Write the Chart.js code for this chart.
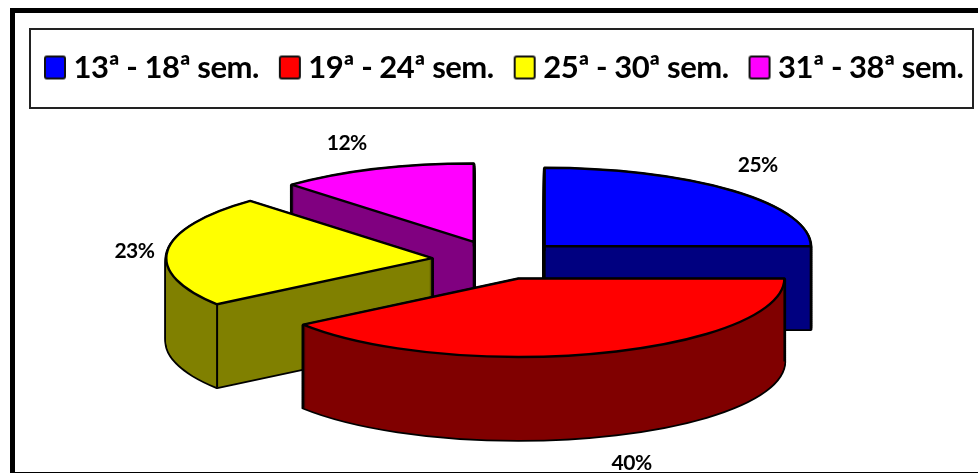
<!DOCTYPE html>
<html>
<head>
<meta charset="utf-8">
<title>Pie</title>
<script src="https://cdn.jsdelivr.net/npm/chart.js@4"></script>
<style>
  body { margin: 0; background: #fff; }
  canvas { display: block; }
</style>
</head>
<body>
<canvas id="myChart" width="978" height="473"></canvas>
<script>
const categories = ["13ª - 18ª sem.", "19ª - 24ª sem.", "25ª - 30ª sem.", "31ª - 38ª sem."];
const percents = [25, 40, 23, 12];
const topColors = ["#0000ff", "#ff0000", "#ffff00", "#ff00ff"];
const sideColors = ["#000080", "#800000", "#808000", "#800080"];

// back slices first so the front ones paint over them
const drawOrder = [3, 2, 0, 1];
// label shift from the middle of each slice's rim
const labelShift = [[25, -26], [31, 110], [-33, 0], [-29, -26]];

const tilt = 0.295;
const explode = 66;
const depth = 83;
const pieShiftX = 9;

function makeSwatch(color) {
  const c = document.createElement("canvas");
  c.width = 24;
  c.height = 26;
  const g = c.getContext("2d");
  g.fillStyle = color;
  g.strokeStyle = "#111";
  g.lineWidth = 2;
  g.beginPath();
  g.roundRect(2, 2, 20, 22, 2);
  g.fill();
  g.stroke();
  return c;
}

function sliceGeometry(arc) {
  const mid = (arc.startAngle + arc.endAngle) / 2;
  return {
    x: arc.x + pieShiftX + Math.cos(mid) * explode,
    y: arc.y + Math.sin(mid) * explode * tilt,
    r: arc.outerRadius,
    mid: mid,
  };
}

function slicePath(ctx, arc, lift) {
  const s = sliceGeometry(arc);
  ctx.beginPath();
  ctx.moveTo(s.x, s.y + lift);
  ctx.ellipse(s.x, s.y + lift, s.r, s.r * tilt, 0, arc.startAngle, arc.endAngle);
  ctx.closePath();
}

function verticalEdge(ctx, x, y) {
  ctx.beginPath();
  ctx.moveTo(x, y);
  ctx.lineTo(x, y + depth);
  ctx.stroke();
}

function drawSlice(ctx, arc, i) {
  const s = sliceGeometry(arc);
  ctx.lineJoin = "round";

  // outline of the extruded body, then the body on top of it
  ctx.strokeStyle = "#000";
  ctx.lineWidth = 3.6;
  for (let d = depth; d >= 0; d -= 2) {
    slicePath(ctx, arc, d);
    ctx.stroke();
  }
  ctx.fillStyle = sideColors[i];
  for (let d = depth; d >= 0; d--) {
    slicePath(ctx, arc, d);
    ctx.fill();
  }

  ctx.lineWidth = 2;
  [arc.startAngle, arc.endAngle].forEach((a) => {
    verticalEdge(ctx, s.x + Math.cos(a) * s.r, s.y + Math.sin(a) * s.r * tilt);
  });
  if (!(arc.startAngle < Math.PI / 2 && arc.endAngle > Math.PI / 2)) {
    verticalEdge(ctx, s.x, s.y);
  }

  ctx.fillStyle = topColors[i];
  ctx.lineWidth = 2.4;
  slicePath(ctx, arc, 0);
  ctx.fill();
  ctx.stroke();
}

const pie3d = {
  id: "pie3d",
  beforeLayout(chart) {
    // canvas state is reset on resize, so set the tight text here
    chart.ctx.letterSpacing = "-0.5px";
  },
  afterLayout(chart) {
    // legend row sits inside its box, a bit right of the layout edge
    chart.legend.left += 24;
    chart.legend.right += 24;
  },
  beforeDraw(chart) {
    const ctx = chart.ctx;
    ctx.letterSpacing = "-0.5px";
    ctx.save();
    ctx.fillStyle = "#fff";
    ctx.fillRect(0, 0, 978, 473);
    // outer frame
    ctx.fillStyle = "#000";
    ctx.fillRect(10, 8, 968, 5);
    ctx.fillRect(10, 8, 5, 465);
    ctx.fillRect(10, 472, 968, 1);
    // legend box
    ctx.strokeStyle = "#222";
    ctx.lineWidth = 2;
    ctx.strokeRect(30, 29, 943, 79);
    ctx.restore();
  },
  beforeDatasetsDraw(chart) {
    const ctx = chart.ctx;
    const arcs = chart.getDatasetMeta(0).data;
    ctx.save();
    drawOrder.forEach((i) => drawSlice(ctx, arcs[i], i));

    ctx.fillStyle = "#000";
    ctx.font = "bold 21px Lato";
    ctx.textAlign = "center";
    ctx.textBaseline = "middle";
    arcs.forEach((arc, i) => {
      const s = sliceGeometry(arc);
      const x = s.x + Math.cos(s.mid) * s.r + labelShift[i][0];
      const y = s.y + Math.sin(s.mid) * s.r * tilt + labelShift[i][1];
      ctx.fillText(percents[i] + "%", x, y);
    });
    ctx.restore();
    return false;
  },
};

new Chart(document.getElementById("myChart"), {
  type: "pie",
  data: {
    labels: categories,
    datasets: [
      {
        data: percents,
        backgroundColor: topColors,
        borderWidth: 0,
      },
    ],
  },
  plugins: [pie3d],
  options: {
    responsive: false,
    animation: false,
    events: [],
    radius: 266,
    layout: {
      padding: { top: 24, bottom: 46 },
    },
    plugins: {
      tooltip: { enabled: false },
      legend: {
        position: "top",
        align: "start",
        labels: {
          usePointStyle: true,
          pointStyleWidth: 6,
          padding: 28,
          color: "#000",
          font: { family: "Lato", size: 31, weight: "bold" },
          generateLabels: (chart) =>
            chart.data.labels.map((text, i) => ({
              text: text,
              index: i,
              hidden: false,
              lineWidth: 0,
              pointStyle: makeSwatch(topColors[i]),
            })),
        },
      },
    },
  },
});
</script>
</body>
</html>
